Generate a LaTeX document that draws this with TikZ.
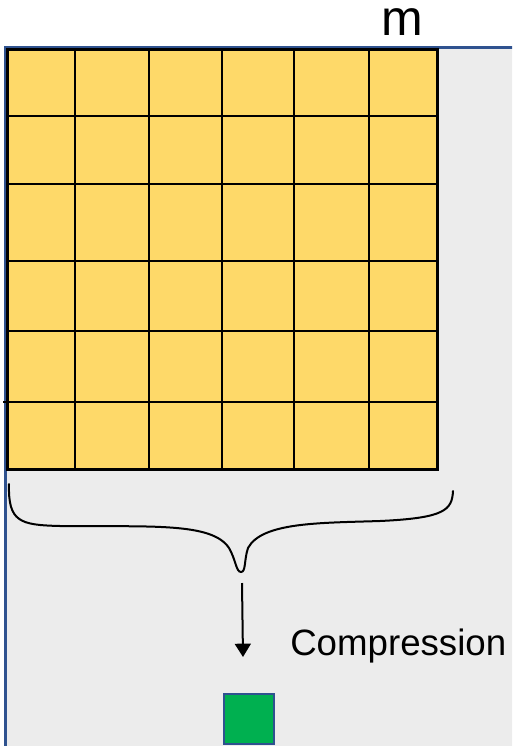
\documentclass[tikz,border=0pt]{standalone}
\usepackage{fontspec}
\setmainfont{Liberation Sans}
\usetikzlibrary{arrows.meta}
\definecolor{panelgray}{HTML}{ECECEC}
\definecolor{panelblue}{HTML}{2F528F}
\definecolor{cellyellow}{HTML}{FED969}
\definecolor{boxgreen}{HTML}{00B050}
\begin{document}
\begin{tikzpicture}[x=0.75pt,y=-0.75pt,
  gridline/.style={black,line width=1.6pt},
  panel/.style={fill=panelgray,draw=panelblue,line width=2pt},
  gridbox/.style={draw=black,fill=cellyellow,line width=1.6pt,inner sep=0pt,
    minimum width=322.5pt,minimum height=315pt},
  greenbox/.style={draw=panelblue,fill=boxgreen,line width=1.5pt,inner sep=0pt,
    minimum size=38pt},
  bracestyle/.style={black,line width=1.5pt,line cap=round},
  arrowstyle/.style={black,line width=1.5pt,-{Triangle[width=12pt,length=10pt]}},
  label/.style={inner sep=0pt,anchor=base,text=black}]
\useasboundingbox (0,0) rectangle (512,746);
\clip (0,0) rectangle (512,746);
% background panel
\draw[panel] (5.5,47.5) rectangle (530,770);
% grid
\node[gridbox] (grid) at (222.5,259.5) {};
\foreach \x in {75,149,222,294,369}{
  \draw[gridline] (\x,50) -- (\x,469);
}
\foreach \y in {116,184,261,331}{
  \draw[gridline] (8,\y) -- (437,\y);
}
\draw[gridline] (3,402) -- (437,402);
\draw[black,line width=1.6pt] (8,50) rectangle (437,469);
% label m
\node[label,font=\fontsize{37.5pt}{40pt}\selectfont] (mlabel) at (402,35) {m};
% brace
\coordinate (braceL) at (9,484);
\coordinate (braceR) at (453,491);
\coordinate (bracetip) at (241,572);
\draw[bracestyle] (braceL) .. controls (8,522) and (20,525) .. (60,526)
  .. controls (150,527) and (212,522) .. (229,548)
  .. controls (236,560) and (236,572) .. (bracetip)
  .. controls (246,572) and (244,560) .. (248,548)
  .. controls (262,522) and (320,523) .. (380,521)
  .. controls (445,518) and (452,510) .. (braceR);
% arrow
\coordinate (arrowstart) at (242,583);
\coordinate (arrowend) at (243,657);
\draw[arrowstyle] (arrowstart) -- (arrowend);
% compression label
\node[label,anchor=base west,font=\fontsize{27.5pt}{30pt}\selectfont] (comp) at (290,655) {Compression};
% green square
\node[greenbox] (green) at (249,719) {};
\end{tikzpicture}
\end{document}
